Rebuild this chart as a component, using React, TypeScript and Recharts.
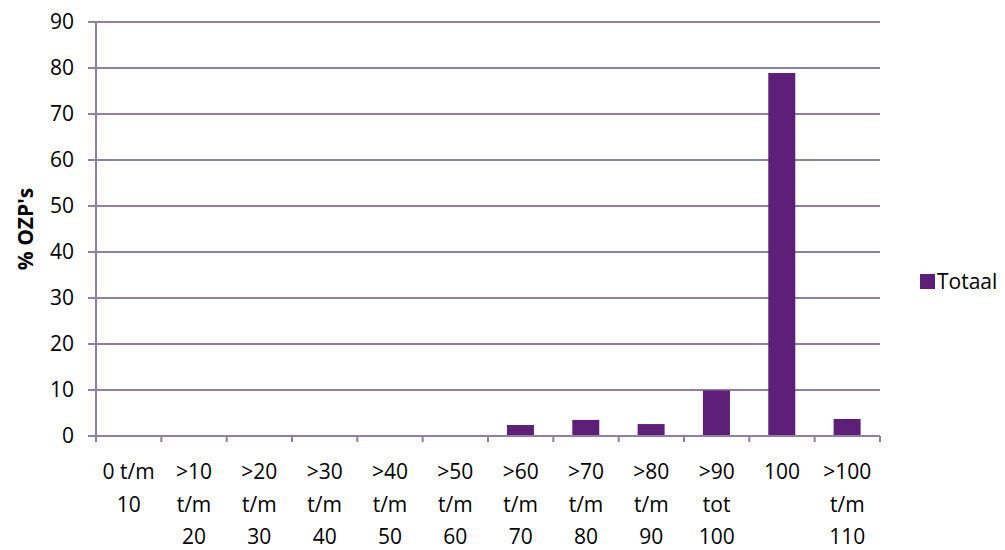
import React from "react";
import { BarChart, Bar, XAxis, YAxis, CartesianGrid } from "recharts";

// category labels, one line per "\n"
const categories = [
  "0 t/m\n10",
  ">10\nt/m\n20",
  ">20\nt/m\n30",
  ">30\nt/m\n40",
  ">40\nt/m\n50",
  ">50\nt/m\n60",
  ">60\nt/m\n70",
  ">70\nt/m\n80",
  ">80\nt/m\n90",
  ">90\ntot\n100",
  "100",
  ">100\nt/m\n110",
];

const totaal = [0.2, 0.2, 0.2, 0.2, 0.2, 0.2, 2.4, 3.5, 2.6, 9.9, 78.9, 3.7];

const yTicks = [0, 10, 20, 30, 40, 50, 60, 70, 80, 90];

const BAR = "#5E1F78";
const GRID = "#8E7FA3";
const FONT = "'Open Sans', Lato, sans-serif";

const data = categories.map((c, i) => ({ name: c, Totaal: totaal[i] }));

// multi-line category label plus tick marks on the category boundaries
function CategoryTick(props: any) {
  const { x, y, payload, index } = props;
  const half = payload?.offset ?? 32.7;
  const lines = String(payload.value).split("\n");
  return (
    <g>
      <line x1={x - half} y1={y} x2={x - half} y2={y + 6} stroke={GRID} strokeWidth={2} />
      {index === categories.length - 1 && (
        <line x1={x + half} y1={y} x2={x + half} y2={y + 6} stroke={GRID} strokeWidth={2} />
      )}
      <text x={x} y={y} textAnchor="middle" fill="#000" fontSize={21} fontFamily={FONT}>
        {lines.map((l, i) => (
          <tspan key={i} x={x} dy={i === 0 ? 43 : 32.5}>
            {l}
          </tspan>
        ))}
      </text>
    </g>
  );
}

function LegendBox() {
  return (
    <div
      style={{
        position: "absolute",
        left: 920,
        top: 266,
        height: 30,
        display: "flex",
        alignItems: "center",
        fontFamily: FONT,
        fontSize: 21,
        color: "#000",
      }}
    >
      <span style={{ width: 15, height: 15, background: BAR, display: "inline-block", marginRight: 2 }} />
      Totaal
    </div>
  );
}

export default function App() {
  return (
    <div style={{ position: "absolute", left: 0, top: 0, width: 1005, height: 550, background: "#fff" }}>
      <BarChart
        width={1005}
        height={550}
        data={data}
        margin={{ top: 22, right: 125, bottom: 0, left: 0 }}
        barCategoryGap="29%"
      >
        <CartesianGrid vertical={false} stroke={GRID} strokeWidth={2} />
        <XAxis
          dataKey="name"
          height={114}
          interval={0}
          tickLine={false}
          tickSize={0}
          tickMargin={0}
          axisLine={{ stroke: GRID, strokeWidth: 2 }}
          tick={<CategoryTick />}
        />
        <YAxis
          width={96}
          domain={[0, 90]}
          ticks={yTicks}
          interval={0}
          tickSize={8}
          tickMargin={14}
          tickLine={{ stroke: GRID, strokeWidth: 2 }}
          axisLine={{ stroke: GRID, strokeWidth: 2 }}
          tick={{ fill: "#000", fontSize: 21, fontFamily: FONT }}
          label={{
            value: "% OZP's",
            angle: -90,
            position: "insideLeft",
            offset: 26,
            style: { fill: "#000", fontSize: 21, fontWeight: 700, fontFamily: FONT, textAnchor: "middle" },
          }}
        />
        <Bar dataKey="Totaal" fill={BAR} isAnimationActive={false} />
      </BarChart>
      <LegendBox />
    </div>
  );
}
